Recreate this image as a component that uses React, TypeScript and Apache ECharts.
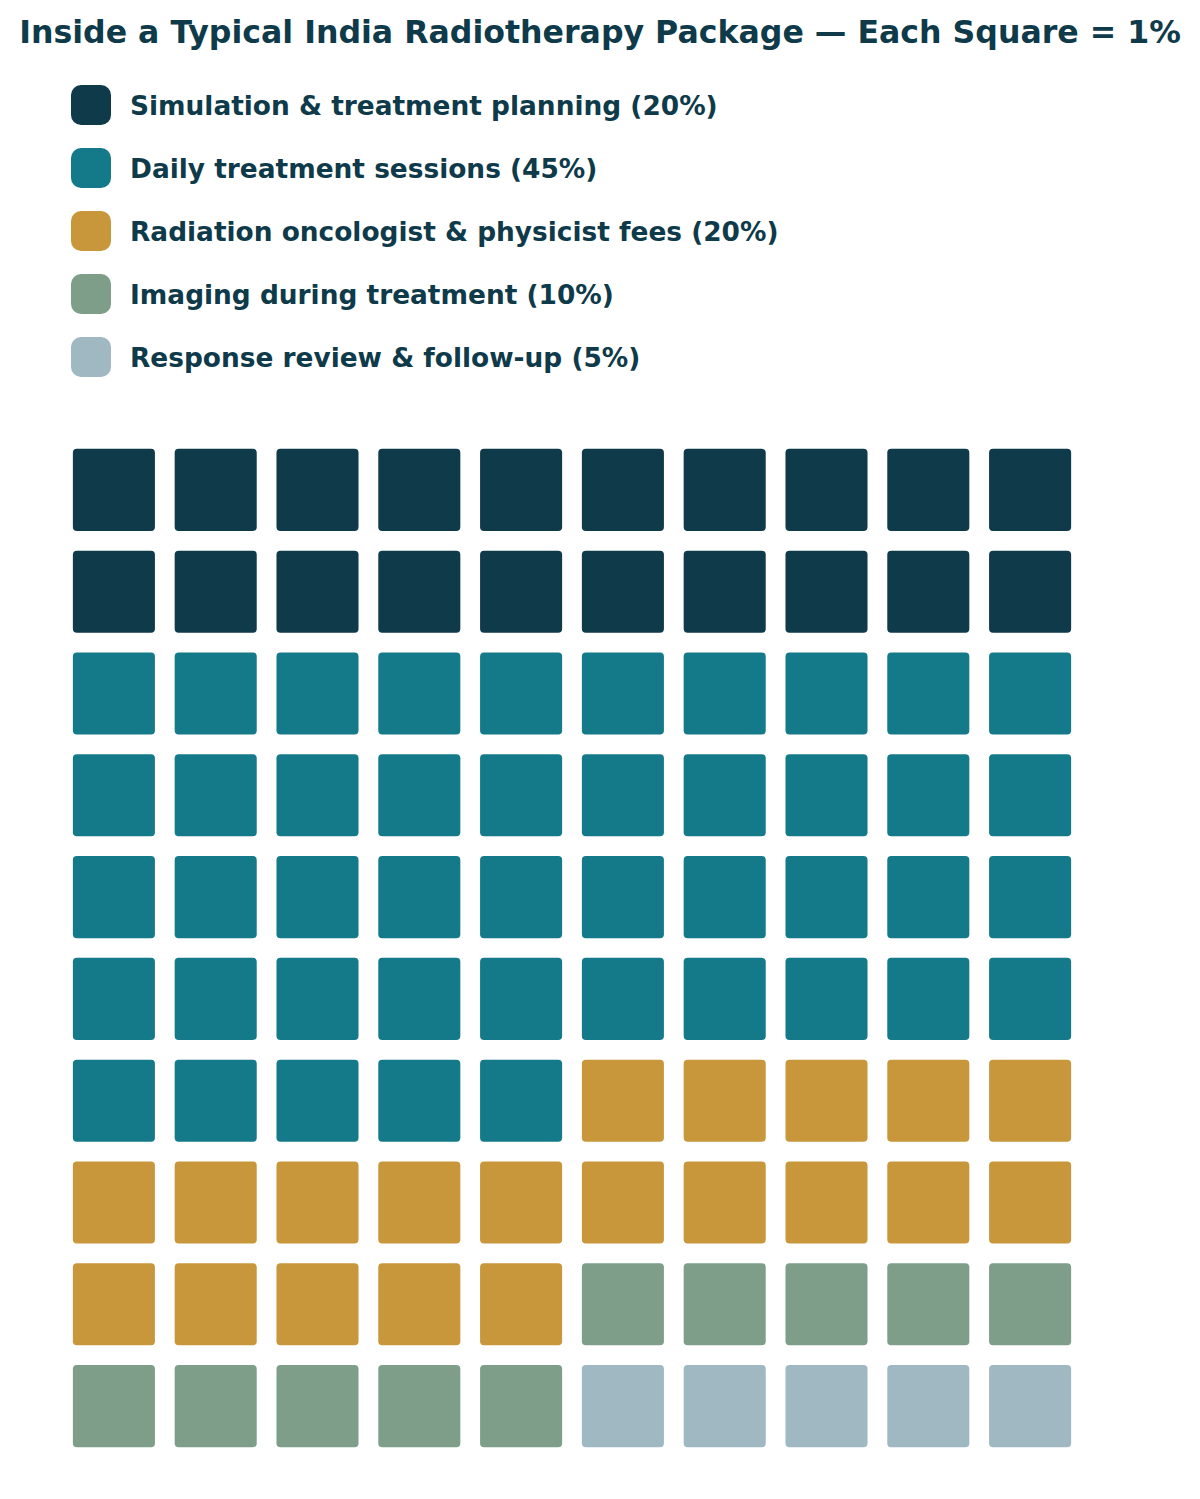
import React, { useEffect, useRef } from "react";
import * as echarts from "echarts";

const TITLE = "Inside a Typical India Radiotherapy Package — Each Square = 1%";
const categories = [
  "Simulation & treatment planning (20%)",
  "Daily treatment sessions (45%)",
  "Radiation oncologist & physicist fees (20%)",
  "Imaging during treatment (10%)",
  "Response review & follow-up (5%)",
];
const values = [20, 45, 20, 10, 5];
const colors = ["#0e3a4a", "#147a8a", "#c9973b", "#7f9e8a", "#a0b8c2"];
const COLS = 10;
const ROWS = 10;

export default function App() {
  const ref = useRef<HTMLDivElement>(null);
  useEffect(() => {
    document.body.style.margin = "0";
    const chart = echarts.init(ref.current!, null, { renderer: "svg" });
    let idx = 0;
    const series = categories.map((name, si) => {
      const data: number[][] = [];
      for (let k = 0; k < values[si]; k++) {
        const col = idx % COLS;
        const row = Math.floor(idx / COLS);
        data.push([col + 0.5, row + 0.5]);
        idx++;
      }
      return {
        type: "custom",
        name,
        data,
        itemStyle: { color: colors[si] },
        renderItem: (params: any, api: any) => {
          const c = api.coord([api.value(0), api.value(1)]);
          const s = api.size([1, 1]);
          const w = s[0] * 0.806;
          const h = s[1] * 0.806;
          return {
            type: "rect",
            shape: { x: c[0] - w / 2, y: c[1] - h / 2, width: w, height: h, r: 4 },
            style: { fill: colors[si] },
          };
        },
      };
    });
    chart.setOption({
      animation: false,
      title: {
        text: TITLE,
        left: "center",
        top: 16,
        padding: 0,
        textStyle: {
          fontFamily: "DejaVu Sans",
          fontWeight: "bold",
          fontSize: 31.6,
          color: "#0e3a4a",
        },
      },
      legend: {
        orient: "vertical",
        left: 71,
        top: 85,
        padding: 0,
        itemWidth: 40,
        itemHeight: 40,
        itemGap: 23,
        icon: "roundRect",
        selectedMode: false,
        data: categories.map((n, i) => ({ name: n, itemStyle: { color: colors[i] } })),
        textStyle: {
          fontFamily: "DejaVu Sans",
          fontWeight: "bold",
          fontSize: 26.4,
          color: "#0e3a4a",
          padding: [0, 0, 0, 14],
        },
      },
      grid: { left: 63, top: 439, width: 1018, height: 1018 },
      xAxis: { type: "value", min: 0, max: COLS, show: false },
      yAxis: { type: "value", min: 0, max: ROWS, inverse: true, show: false },
      series,
    });
    return () => chart.dispose();
  }, []);
  return <div ref={ref} style={{ width: 1200, height: 1499 }} />;
}
